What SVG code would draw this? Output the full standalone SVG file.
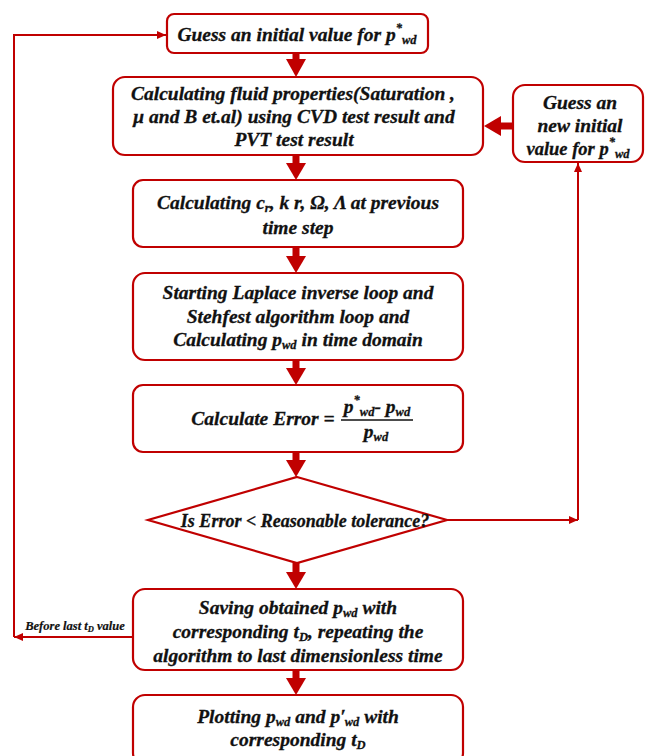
<svg xmlns="http://www.w3.org/2000/svg" width="646" height="756" viewBox="0 0 646 756">
<style>
.box{fill:#fff;stroke:#c00000;stroke-width:2.2}
.t{font-family:"Liberation Serif","Times New Roman",serif;font-weight:bold;font-style:italic;font-size:19.5px;fill:#111;stroke:#111;stroke-width:0.3;text-anchor:middle}
.s{font-size:12.5px}
.thick{stroke:#c00000;stroke-width:7;fill:none}
.thin{stroke:#c00000;stroke-width:2;fill:none}
</style>
<defs>
<marker id="small" markerUnits="userSpaceOnUse" markerWidth="10" markerHeight="10" viewBox="0 0 10 10" refX="9" refY="5" orient="auto">
<path d="M0,1 L9,5 L0,9 Z" fill="#c00000"/>
</marker>
</defs>
<rect width="646" height="756" fill="#fff"/>
<g id="connectors">
<line class="thick" x1="296" y1="53" x2="296" y2="62"/>
<path d="M286,59 L306,59 L296,77 Z" fill="#c00000"/>
<line class="thick" x1="296" y1="155" x2="296" y2="164"/>
<path d="M286,163 L306,163 L296,180 Z" fill="#c00000"/>
<line class="thick" x1="296" y1="247" x2="296" y2="257"/>
<path d="M286,256 L306,256 L296,273 Z" fill="#c00000"/>
<line class="thick" x1="296" y1="360" x2="296" y2="369"/>
<path d="M286,368 L306,368 L296,385 Z" fill="#c00000"/>
<line class="thick" x1="296" y1="452" x2="296" y2="461"/>
<path d="M286,460 L306,460 L296,477 Z" fill="#c00000"/>
<line class="thick" x1="296" y1="563" x2="296" y2="573"/>
<path d="M286,572 L306,572 L296,589 Z" fill="#c00000"/>
<line class="thick" x1="296" y1="670" x2="296" y2="679"/>
<path d="M286,678 L306,678 L296,695 Z" fill="#c00000"/>
<line class="thick" x1="513" y1="126" x2="498" y2="126"/>
<path d="M501,116 L501,136 L484,126 Z" fill="#c00000"/>
<line class="thin" x1="447" y1="520" x2="578" y2="520" marker-end="url(#small)"/>
<line class="thin" x1="578" y1="520" x2="578" y2="163" marker-end="url(#small)"/>
<line class="thin" x1="133" y1="637" x2="14" y2="637" marker-end="url(#small)"/>
<polyline class="thin" points="14,637 14,35 166,35" marker-end="url(#small)"/>
<text x="75" y="630" class="t" style="font-size:12.5px;stroke-width:0.2">Before last t<tspan style="font-size:8.5px" dy="2">D</tspan><tspan dy="-2"> value</tspan></text>
</g>
<g id="n1">
<rect class="box" x="167" y="14" width="261" height="39" rx="7"/>
<text x="297" y="41" class="t">Guess an initial value for p<tspan class="s" dy="-9">*</tspan><tspan class="s" dx="0" dy="12">wd</tspan></text>
</g>
<g id="n2">
<rect class="box" x="113" y="77" width="370" height="78" rx="12"/>
<text x="293" y="100" class="t">Calculating fluid properties(Saturation ,</text>
<text x="294" y="123" class="t">μ and B et.al) using CVD test result and</text>
<text x="294" y="146" class="t">PVT test result</text>
</g>
<g id="n3">
<rect class="box" x="513" y="85" width="130" height="77" rx="12"/>
<text x="580" y="109" class="t">Guess an</text>
<text x="580" y="132" class="t">new initial</text>
<text x="578" y="155" class="t" style="font-size:18.5px">value for p<tspan class="s" dy="-9">*</tspan><tspan class="s" dy="12">wd</tspan></text>
</g>
<g id="n4">
<rect class="box" x="133" y="180" width="330" height="67" rx="10"/>
<text x="298" y="209" class="t">Calculating c<tspan class="s" dy="3">r</tspan><tspan dy="-3">, k r, Ω, Λ at previous</tspan></text>
<text x="298" y="234" class="t">time step</text>
</g>
<g id="n5">
<rect class="box" x="133" y="273" width="330" height="87" rx="12"/>
<text x="298" y="299" class="t">Starting Laplace inverse loop and</text>
<text x="298" y="323" class="t">Stehfest algorithm loop and</text>
<text x="298" y="346" class="t">Calculating p<tspan class="s" dy="3">wd</tspan><tspan dy="-3"> in time domain</tspan></text>
</g>
<g id="n6">
<rect class="box" x="133" y="385" width="330" height="67" rx="10"/>
<text x="263" y="425" class="t">Calculate Error =</text>
<text x="377" y="413" class="t">p<tspan class="s" dy="-9">*</tspan><tspan class="s" dy="12">wd</tspan><tspan dy="-3">- p</tspan><tspan class="s" dy="3">wd</tspan></text>
<line x1="341" y1="420" x2="413" y2="420" stroke="#111" stroke-width="1.4"/>
<text x="376" y="438" class="t">p<tspan class="s" dy="3">wd</tspan></text>
</g>
<g id="n7">
<polygon class="box" points="297,477 447,520 297,563 148,520"/>
<text x="305" y="527" class="t" style="font-size:18px">Is Error &lt; Reasonable tolerance?</text>
</g>
<g id="n8">
<rect class="box" x="133" y="589" width="330" height="81" rx="12"/>
<text x="298" y="614" class="t">Saving obtained p<tspan class="s" dy="3">wd</tspan><tspan dy="-3"> with</tspan></text>
<text x="298" y="638" class="t">corresponding t<tspan class="s" dy="3">D</tspan><tspan dy="-3">, repeating the</tspan></text>
<text x="298" y="662" class="t">algorithm to last dimensionless time</text>
</g>
<g id="n9">
<rect class="box" x="133" y="695" width="330" height="70" rx="12"/>
<text x="298" y="723" class="t">Plotting p<tspan class="s" dy="3">wd</tspan><tspan dy="-3"> and  p′</tspan><tspan class="s" dx="-1" dy="3">wd</tspan><tspan dy="-3"> with</tspan></text>
<text x="298" y="746" class="t">corresponding t<tspan class="s" dy="3">D</tspan></text>
</g>
</svg>
